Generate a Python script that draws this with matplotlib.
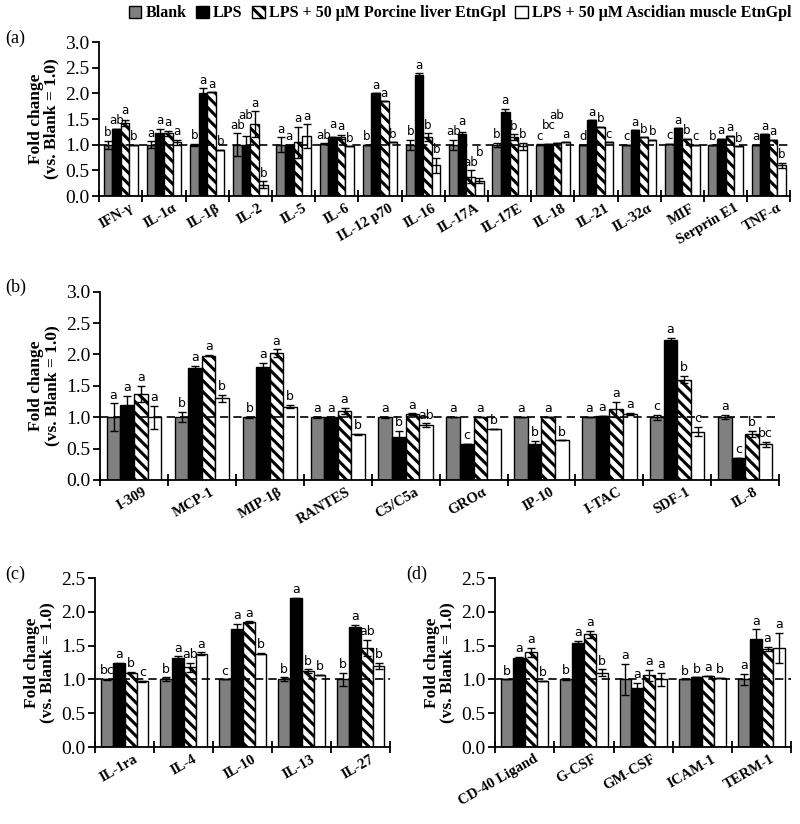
import matplotlib
matplotlib.use('Agg')
import matplotlib.pyplot as plt
import numpy as np
from matplotlib.patches import Patch
from matplotlib.transforms import ScaledTranslation

plt.rcParams['font.family'] = ['Liberation Serif', 'DejaVu Serif']
plt.rcParams['hatch.linewidth'] = 2.2

# ---- data (fold change vs. blank) ----
a_cats = ['IFN-γ', 'IL-1α', 'IL-1β', 'IL-2', 'IL-5', 'IL-6', 'IL-12 p70', 'IL-16',
          'IL-17A', 'IL-17E', 'IL-18', 'IL-21', 'IL-32α', 'MIF', 'Serprin E1', 'TNF-α']
a_blank = [1.0, 1.0, 1.0, 1.0, 1.0, 1.02, 1.0, 1.0, 1.0, 1.0, 1.0, 1.0, 1.0, 1.02, 1.0, 1.0]
a_blank_err = [0.08, 0.07, 0.02, 0.22, 0.15, 0.01, 0.0, 0.1, 0.1, 0.04, 0.01, 0.0, 0.0, 0.0, 0.0, 0.0]
a_lps = [1.31, 1.23, 2.0, 1.0, 1.0, 1.15, 2.0, 2.35, 1.2, 1.63, 1.02, 1.48, 1.28, 1.32, 1.12, 1.2]
a_lps_err = [0.0, 0.08, 0.1, 0.17, 0.0, 0.0, 0.0, 0.04, 0.05, 0.07, 0.0, 0.0, 0.0, 0.0, 0.0, 0.0]
a_por = [1.42, 1.22, 2.02, 1.4, 1.05, 1.15, 1.85, 1.15, 0.38, 1.15, 1.03, 1.35, 1.15, 1.12, 1.17, 1.1]
a_por_err = [0.06, 0.05, 0.0, 0.25, 0.3, 0.04, 0.0, 0.07, 0.12, 0.05, 0.0, 0.0, 0.0, 0.0, 0.0, 0.0]
a_asc = [1.0, 1.05, 0.9, 0.22, 1.17, 0.97, 1.05, 0.6, 0.3, 0.97, 1.05, 1.05, 1.1, 1.0, 0.97, 0.6]
a_asc_err = [0.0, 0.05, 0.0, 0.07, 0.23, 0.0, 0.0, 0.15, 0.05, 0.07, 0.0, 0.0, 0.0, 0.0, 0.0, 0.05]
a_letters = ['b ab a b', 'a a a a', 'b a a b', 'ab ab a b', 'a a a a', 'ab a a b', 'b a a b',
             'b a b b', 'ab a ab b', 'b a b b', 'c bc ab a', 'd a b c', 'c a b b', 'c a b c',
             'b a a b', 'a a a b']

b_cats = ['I-309', 'MCP-1', 'MIP-1β', 'RANTES', 'C5/C5a', 'GROα', 'IP-10', 'I-TAC', 'SDF-1', 'IL-8']
b_blank = [1.0, 1.0, 1.0, 1.0, 1.0, 1.0, 1.0, 1.0, 1.0, 1.0]
b_blank_err = [0.22, 0.08, 0.01, 0.01, 0.01, 0.0, 0.0, 0.0, 0.04, 0.03]
b_lps = [1.2, 1.78, 1.8, 1.0, 0.68, 0.57, 0.57, 1.02, 2.23, 0.35]
b_lps_err = [0.14, 0.03, 0.07, 0.0, 0.1, 0.0, 0.05, 0.0, 0.03, 0.0]
b_por = [1.37, 1.98, 2.02, 1.1, 1.05, 1.0, 1.0, 1.13, 1.6, 0.73]
b_por_err = [0.13, 0.01, 0.06, 0.05, 0.01, 0.0, 0.0, 0.12, 0.06, 0.05]
b_asc = [1.0, 1.3, 1.17, 0.73, 0.87, 0.82, 0.63, 1.05, 0.77, 0.57]
b_asc_err = [0.18, 0.06, 0.03, 0.01, 0.03, 0.0, 0.0, 0.02, 0.07, 0.04]
b_letters = ['a a a a', 'b a a b', 'b a a b', 'a a a b', 'a b a ab', 'a c a b', 'a b a b',
             'a a a a', 'c a b c', 'a c b bc']

c_cats = ['IL-1ra', 'IL-4', 'IL-10', 'IL-13', 'IL-27']
c_blank = [1.0, 1.0, 1.0, 1.0, 1.0]
c_blank_err = [0.01, 0.03, 0.0, 0.03, 0.1]
c_lps = [1.24, 1.31, 1.75, 2.2, 1.78]
c_lps_err = [0.01, 0.03, 0.07, 0.01, 0.03]
c_por = [1.1, 1.18, 1.85, 1.12, 1.47]
c_por_err = [0.01, 0.07, 0.01, 0.03, 0.12]
c_asc = [0.97, 1.38, 1.38, 1.07, 1.2]
c_asc_err = [0.01, 0.02, 0.01, 0.0, 0.05]
c_letters = ['bc a b c', 'b a ab a', 'c a a b', 'b a b b', 'b a ab b']

d_cats = ['CD-40 Ligand', 'G-CSF', 'GM-CSF', 'ICAM-1', 'TERM-1']
d_blank = [1.0, 1.0, 1.0, 1.0, 1.0]
d_blank_err = [0.0, 0.01, 0.23, 0.0, 0.08]
d_lps = [1.32, 1.54, 0.87, 1.03, 1.6]
d_lps_err = [0.01, 0.03, 0.08, 0.0, 0.14]
d_por = [1.4, 1.67, 1.06, 1.05, 1.45]
d_por_err = [0.07, 0.05, 0.08, 0.0, 0.03]
d_asc = [0.98, 1.1, 1.0, 1.02, 1.47]
d_asc_err = [0.0, 0.05, 0.1, 0.0, 0.22]
d_letters = ['b a a b', 'b a a b', 'a a a a', 'b b a b', 'a a a a']

series_labels = ['Blank', 'LPS', 'LPS + 50 μM Porcine liver EtnGpl', 'LPS + 50 μM Ascidian muscle EtnGpl']
fills = ['#808080', 'black', 'white', 'white']
hatches = [None, None, '\\\\\\', None]


def panel(ax, cats, vals, errs, letters, ymax, narrow):
    n = len(cats)
    x = np.arange(n) + 0.5
    w = 0.2
    pad = 0.03 * ymax / 3
    lift = 0.2 * ymax / 3
    for k in range(4):
        xs = x + (k - 1.5) * w
        ax.bar(xs, vals[k], w, color=fills[k], edgecolor='black', linewidth=1.0,
               hatch=hatches[k], zorder=2)
        ax.errorbar(xs, vals[k], yerr=errs[k], fmt='none', ecolor='black',
                    elinewidth=1.0, capsize=3, capthick=1.0, zorder=3)
    # significance letters, lifted where two neighbours would collide
    for i in range(n):
        labs = letters[i].split()
        prev_y, prev_len = None, 0
        for k in range(4):
            y = vals[k][i] + errs[k][i] + pad
            if narrow and prev_y is not None and abs(y - prev_y) < lift \
                    and prev_len + len(labs[k]) > 2:
                y = prev_y + lift
            ax.text(x[i] + (k - 1.5) * w, y, labs[k], ha='center', va='bottom',
                    fontsize=8.5 if narrow else 9, family='DejaVu Sans', zorder=4)
            prev_y, prev_len = y, len(labs[k])
    ax.axhline(1.0, color='black', ls=(0, (5, 3)), lw=1.2, zorder=5)
    ax.set_xlim(0, n)
    ax.set_ylim(0, ymax)
    yt = np.arange(0, ymax + 0.01, 0.5)
    ax.set_yticks(yt)
    ax.set_yticklabels(['%.1f' % v for v in yt], fontsize=14)
    ax.set_xticks(np.arange(n + 1))
    ax.set_xticklabels([])
    ax.set_xticks(x, minor=True)
    ax.set_xticklabels(cats, minor=True, rotation=30, ha='right', va='top',
                       fontsize=10.5, fontweight='bold')
    ax.tick_params(axis='x', which='major', direction='inout', length=8, width=1.3)
    ax.tick_params(axis='x', which='minor', length=0, pad=4)
    ax.tick_params(axis='y', direction='out', length=5, width=1.3, pad=2)
    shift = ScaledTranslation(0.15, 0, ax.figure.dpi_scale_trans)
    for lbl in ax.get_xticklabels(minor=True):
        lbl.set_transform(lbl.get_transform() + shift)
    ax.spines['top'].set_visible(False)
    ax.spines['right'].set_visible(False)
    ax.spines['left'].set_linewidth(1.3)
    ax.spines['bottom'].set_linewidth(1.3)
    ax.set_ylabel('Fold change\n(vs. Blank = 1.0)', fontsize=12.5, fontweight='bold',
                  linespacing=1.0, labelpad=4)


fig = plt.figure(figsize=(8, 8.24), dpi=100)
ax_a = fig.add_axes([0.124, 0.762, 0.864, 0.187])
ax_b = fig.add_axes([0.125, 0.4175, 0.849, 0.2285])
ax_c = fig.add_axes([0.119, 0.0934, 0.369, 0.2051])
ax_d = fig.add_axes([0.619, 0.0934, 0.370, 0.2051])

panel(ax_a, a_cats, [a_blank, a_lps, a_por, a_asc],
      [a_blank_err, a_lps_err, a_por_err, a_asc_err], a_letters, 3.0, True)
panel(ax_b, b_cats, [b_blank, b_lps, b_por, b_asc],
      [b_blank_err, b_lps_err, b_por_err, b_asc_err], b_letters, 3.0, False)
panel(ax_c, c_cats, [c_blank, c_lps, c_por, c_asc],
      [c_blank_err, c_lps_err, c_por_err, c_asc_err], c_letters, 2.5, False)
panel(ax_d, d_cats, [d_blank, d_lps, d_por, d_asc],
      [d_blank_err, d_lps_err, d_por_err, d_asc_err], d_letters, 2.5, False)

fig.text(0.006, 0.953, '(a)', fontsize=13, va='center')
fig.text(0.006, 0.651, '(b)', fontsize=13, va='center')
fig.text(0.006, 0.303, '(c)', fontsize=13, va='center')
fig.text(0.508, 0.303, '(d)', fontsize=13, va='center')

handles = [Patch(facecolor=fills[k], edgecolor='black', hatch=hatches[k], linewidth=1.0)
           for k in range(4)]
fig.legend(handles, series_labels, loc='upper center', bbox_to_anchor=(0.575, 1.005), ncol=4,
           frameon=False, prop={'weight': 'bold', 'size': 11.5}, handlelength=0.8,
           handleheight=0.8, handletextpad=0.25, columnspacing=0.6, borderaxespad=0.2)

fig.savefig('out.png', dpi=100)
